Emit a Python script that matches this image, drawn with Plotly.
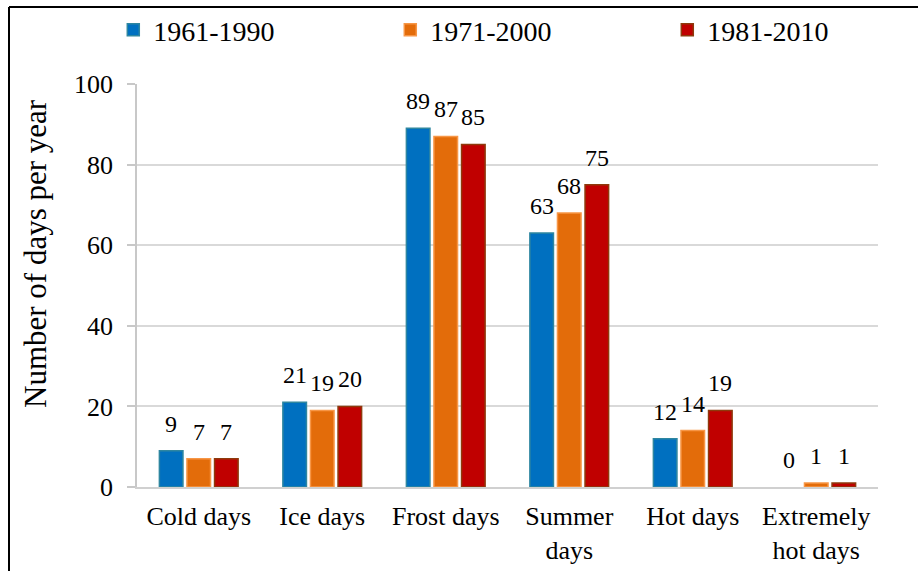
import plotly.graph_objects as go

categories = ["Cold days", "Ice days", "Frost days", "Summer<br>days", "Hot days", "Extremely<br>hot days"]
periods = ["1961-1990", "1971-2000", "1981-2010"]
values_1961_1990 = [9, 21, 89, 63, 12, 0]
values_1971_2000 = [7, 19, 87, 68, 14, 1]
values_1981_2010 = [7, 20, 85, 75, 19, 1]
y_ticks = [0, 20, 40, 60, 80, 100]
y_title = "Number of days per year"

series = [values_1961_1990, values_1971_2000, values_1981_2010]
fills = ["#0070C0", "#E36C0A", "#C00000"]
edges = ["#2E86A0", "#F79646", "#8E3A0C"]

W, H = 918, 571
ML, MR, MT, MB = 137, 40, 84, 84
plot_w = W - ML - MR
plot_h = H - MT - MB
BARGAP = 0.33
GROUPGAP = 0.145
FONT = "Liberation Serif, Times New Roman, serif"

fig = go.Figure()
for name, vals, fc, ec in zip(periods, series, fills, edges):
    fig.add_trace(go.Bar(
        name=name, x=categories, y=vals,
        marker=dict(color=fc, line=dict(color=ec, width=[0 if v == 0 else 1.5 for v in vals])),
    ))

# value labels above each bar
slot_px = plot_w / len(categories) * (1 - BARGAP) / len(series)
for i, vals in enumerate(series):
    for cat, v in zip(categories, vals):
        fig.add_annotation(
            x=cat, y=v, text=str(v), showarrow=False,
            xref="x", yref="y", yanchor="bottom",
            xshift=(i - 1) * slot_px, yshift=12,
            font=dict(family=FONT, size=24, color="black"),
        )

# vertical axis title, placed a little above the plot centre
fig.add_annotation(
    x=(35 - ML) / plot_w, y=(H - MB - 254) / plot_h, xref="paper", yref="paper",
    text=y_title, textangle=-90, showarrow=False, xanchor="center", yanchor="middle",
    font=dict(family=FONT, size=31, color="black"),
)

# outer frame (top and left edges)
fx = (9 - ML) / plot_w
fy = 1 + (MT - 7) / plot_h
fig.add_shape(type="line", xref="paper", yref="paper", x0=fx, x1=1.2, y0=fy, y1=fy,
              line=dict(color="black", width=2))
fig.add_shape(type="line", xref="paper", yref="paper", x0=fx, x1=fx, y0=fy, y1=-0.3,
              line=dict(color="black", width=2))

fig.update_layout(
    width=W, height=H,
    margin=dict(l=ML, r=MR, t=MT, b=MB, autoexpand=False),
    paper_bgcolor="white", plot_bgcolor="white",
    barmode="group", bargap=BARGAP, bargroupgap=GROUPGAP,
    font=dict(family=FONT, size=26, color="black"),
    showlegend=True,
    legend=dict(
        orientation="h", x=-0.032, xanchor="left", y=1 + (MT - 30) / plot_h, yanchor="middle",
        font=dict(family=FONT, size=28, color="black"),
        entrywidth=232, entrywidthmode="pixels",
        itemwidth=30, bgcolor="rgba(0,0,0,0)",
    ),
    xaxis=dict(
        showline=True, linecolor="#D0D0D0", linewidth=1.5,
        ticks="", tickfont=dict(family=FONT, size=26, color="black"),
        ticklabelstandoff=5,
        showgrid=False,
    ),
    yaxis=dict(
        range=[0, 100], tickvals=y_ticks, ticktext=[str(t) for t in y_ticks],
        showgrid=True, gridcolor="#D9D9D9", gridwidth=1.5,
        showline=True, linecolor="#C8C8C8", linewidth=1.5,
        ticks="outside", ticklen=8, tickcolor="#C8C8C8", tickwidth=1.5,
        tickfont=dict(family=FONT, size=26, color="black"),
        ticklabelstandoff=9,
        zeroline=False,
    ),
)

fig.write_html("out.html")
